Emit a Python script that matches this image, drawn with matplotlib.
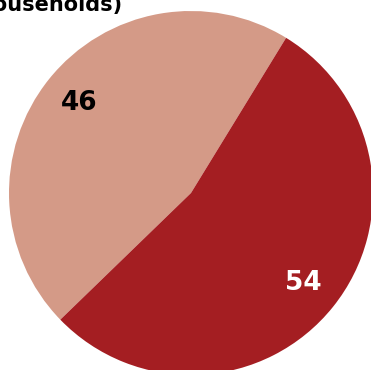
import matplotlib
matplotlib.use("Agg")
import matplotlib.pyplot as plt

labels = ["46", "54"]
values = [46, 54]
colors = ["#D49A87", "#A41E22"]
title = "households)"

fig = plt.figure(figsize=(3.71, 3.70), dpi=100)
ax = fig.add_axes([0, 0, 1, 1])

wedges, texts = ax.pie(values, labels=labels, colors=colors, startangle=58.5,
                       counterclock=True, center=(191, 177), radius=182,
                       labeldistance=0.79, frame=True,
                       textprops=dict(fontsize=19, fontweight="heavy",
                                      family="DejaVu Sans"))
ax.set_xlim(0, 371)
ax.set_ylim(0, 370)
ax.set_aspect("equal")
ax.axis("off")
for t, c in zip(texts, ["black", "white"]):
    t.set_color(c)
    t.set_ha("center")
    t.set_va("center")

fig.text(122 / 371, 1 - 11 / 370, title, ha="right", va="baseline",
         fontsize=15, fontweight="heavy", family="DejaVu Sans", color="black")

fig.savefig("out.png", dpi=100)
